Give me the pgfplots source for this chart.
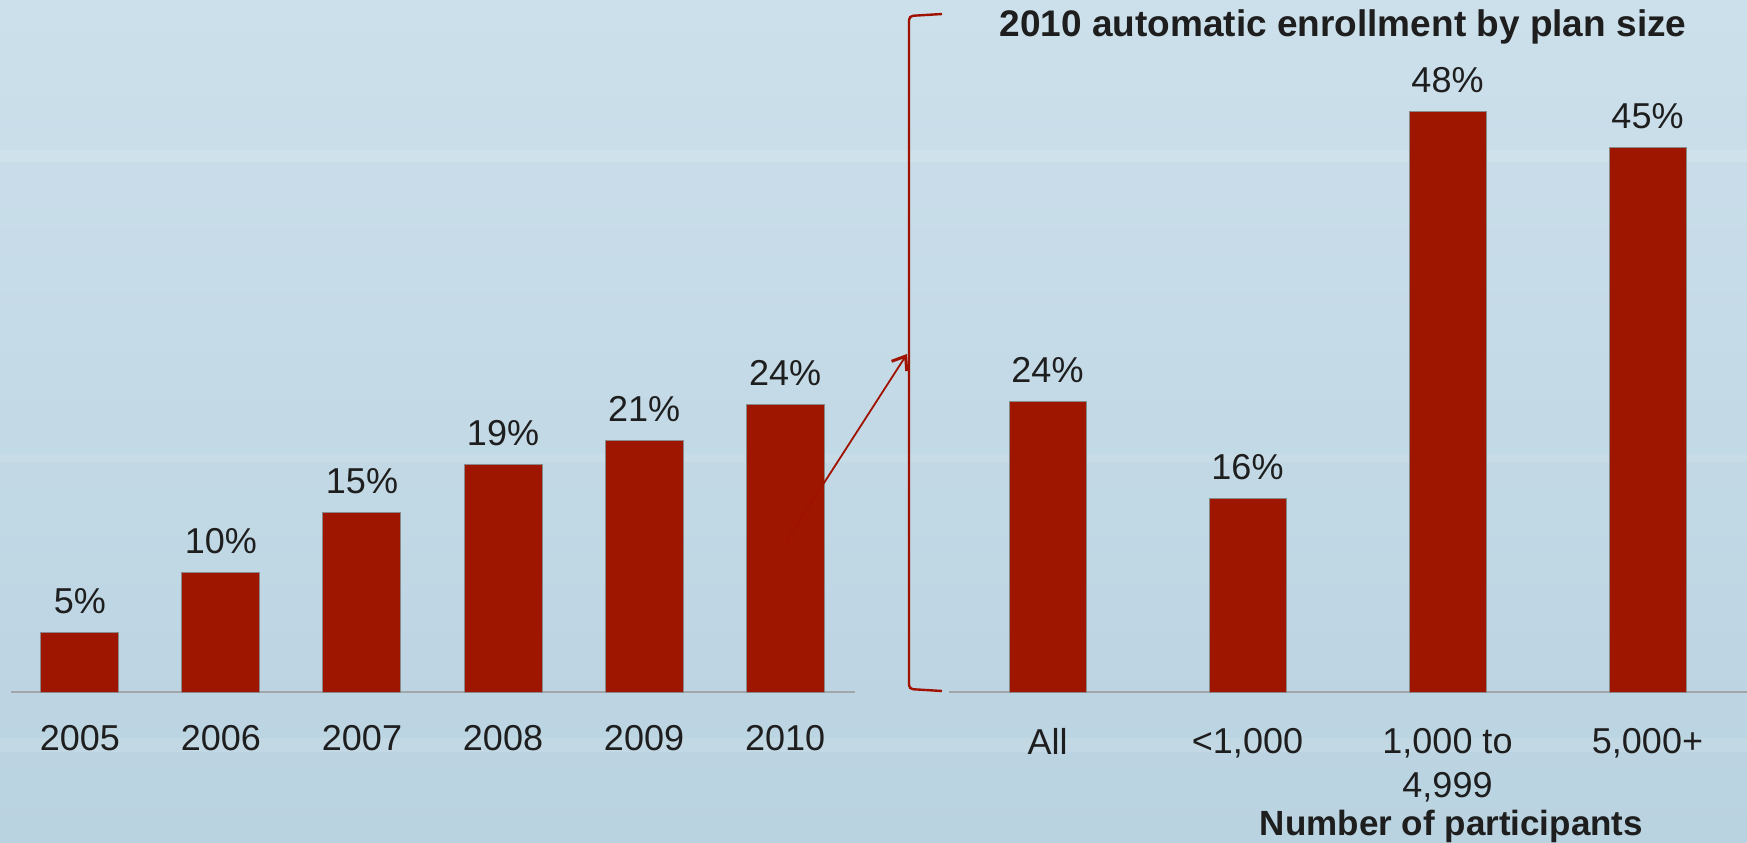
\documentclass[border=0pt]{standalone}
\usepackage{fontspec}
\setmainfont{Liberation Sans}
\usepackage{pgfplots}
\pgfplotsset{compat=1.18}
\usetikzlibrary{arrows.meta}
\definecolor{bgtop}{HTML}{CCE0EB}
\definecolor{bgbot}{HTML}{BAD3E1}
\definecolor{barred}{HTML}{9E1500}
\definecolor{bargray}{HTML}{8A8A8A}
\definecolor{axisgray}{HTML}{A2A6AA}
\definecolor{textcol}{HTML}{1E1E1E}
\definecolor{arrowred}{HTML}{A01200}
\newcommand{\lbl}{\fontsize{18}{22}\selectfont}
\pgfplotsset{
  mybars/.style={
    scale only axis,
    ymin=0, ymax=50,
    axis x line*=bottom,
    axis y line=none,
    x axis line style={draw=axisgray, line width=1pt},
    major tick length=0pt,
    xtick=data,
    ytick=\empty,
    xticklabel style={font=\lbl, text=textcol, anchor=north, inner sep=0pt, align=center},
    ybar,
    /pgf/number format/assume math mode=true,
    nodes near coords={\pgfmathprintnumber{\pgfplotspointmeta}\%},
    nodes near coords style={font=\lbl, text=textcol, anchor=base, yshift=9.5pt, inner sep=0pt},
    clip=false,
  }
}
\begin{document}
\begin{tikzpicture}[x=1pt,y=1pt]
\shade[top color=bgtop, bottom color=bgbot] (0,0) rectangle (873.5,421);
% faint streaks
\fill[white, opacity=0.12] (0,340) rectangle (873.5,346);
\fill[white, opacity=0.10] (0,190) rectangle (873.5,194);
\fill[white, opacity=0.10] (0,45) rectangle (873.5,52);

\begin{axis}[mybars,
  at={(5.5pt,75pt)}, anchor=south west,
  width=422pt, height=300pt,
  xmin=-0.489, xmax=5.496,
  bar width=39pt,
  xticklabels={2005,2006,2007,2008,2009,2010},
  xticklabel style={yshift=-16.5pt},
]
\addplot[fill=barred, draw=bargray, line width=0.5pt] coordinates {(0,5) (1,10) (2,15) (3,19) (4,21) (5,24)};
\end{axis}

\begin{axis}[mybars,
  at={(474.5pt,75pt)}, anchor=south west,
  width=399pt, height=302.5pt,
  xmin=-0.4925, xmax=3.4975,
  bar width=38.5pt,
  xticklabels={All,{<1,000},{1,000 to\\4,999},{5,000+}},
  xticklabel style={yshift=-18pt},
]
\addplot[fill=barred, draw=bargray, line width=0.5pt] coordinates {(0,24) (1,16) (2,48) (3,45)};
\end{axis}

% bracket and arrow
\draw[arrowred, line width=1.2pt, rounded corners=2pt] (471,414) -- (454.5,413) -- (454.5,76.5) -- (471,75.5);
\draw[arrowred, line width=0.9pt, -{Straight Barb[length=6pt,width=9pt,line width=1.5pt]}] (393,150) -- (453.5,244);

\node[anchor=base, text=textcol, inner sep=0pt] at (671.5,402.5) {\bfseries\fontsize{18.5}{22}\selectfont 2010 automatic enrollment by plan size};
\node[anchor=base, text=textcol, inner sep=0pt] at (725.75,3.5) {\bfseries\fontsize{17.5}{21}\selectfont Number of participants};

\pgfresetboundingbox
\path[use as bounding box] (0,0) rectangle (873.5,421);
\end{tikzpicture}
\end{document}
